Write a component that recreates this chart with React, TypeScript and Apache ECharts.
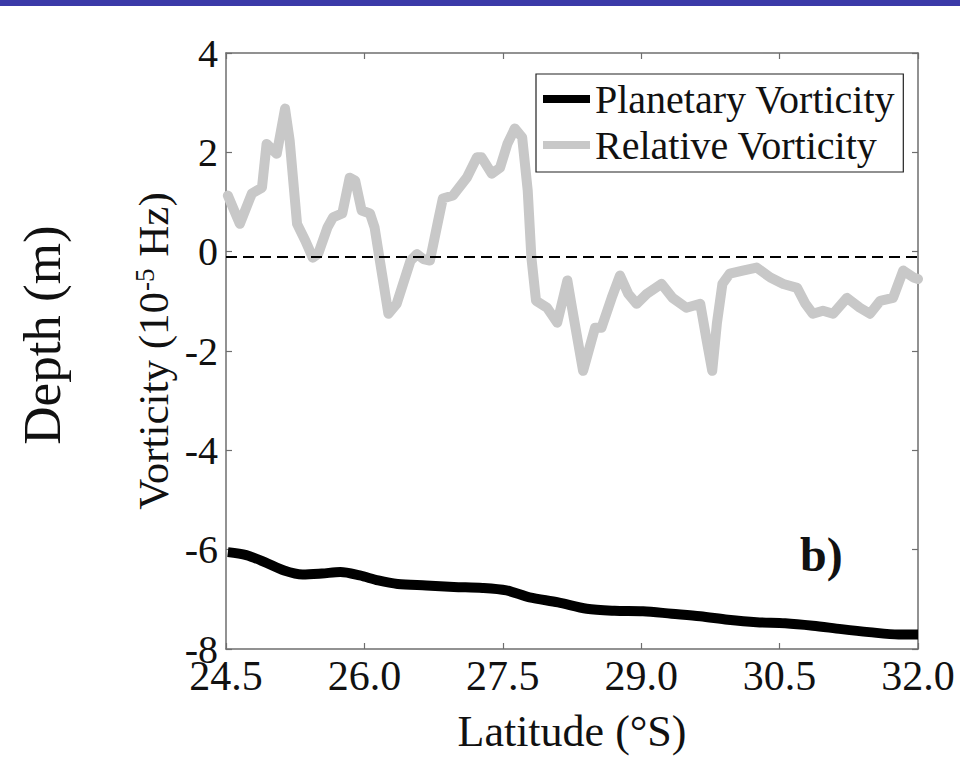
import React, { useEffect, useRef } from "react";
import * as echarts from "echarts";

const xTicks = [24.5, 26.0, 27.5, 29.0, 30.5, 32.0];
const yTicks = [-8, -6, -4, -2, 0, 2, 4];

const relLat = [24.52, 24.65, 24.78, 24.89, 24.94, 25.05, 25.14, 25.19, 25.27, 25.36, 25.44, 25.5, 25.6, 25.66, 25.76, 25.84, 25.9, 25.97, 26.06, 26.11, 26.19, 26.26, 26.35, 26.5, 26.57, 26.64, 26.71, 26.8, 26.85, 26.96, 27.11, 27.22, 27.27, 27.38, 27.47, 27.55, 27.63, 27.71, 27.77, 27.81, 27.86, 27.98, 28.09, 28.2, 28.25, 28.37, 28.5, 28.57, 28.68, 28.77, 28.86, 28.95, 29.06, 29.22, 29.34, 29.49, 29.64, 29.71, 29.77, 29.82, 29.88, 29.96, 30.1, 30.25, 30.4, 30.54, 30.69, 30.78, 30.86, 30.97, 31.08, 31.23, 31.37, 31.48, 31.59, 31.73, 31.84, 31.95, 32.0];
const relVort = [1.13, 0.56, 1.17, 1.29, 2.17, 1.97, 2.88, 2.24, 0.56, 0.22, -0.12, -0.04, 0.49, 0.69, 0.77, 1.49, 1.43, 0.83, 0.77, 0.49, -0.44, -1.25, -1.05, -0.18, -0.05, -0.15, -0.18, 0.63, 1.07, 1.13, 1.49, 1.9, 1.9, 1.57, 1.69, 2.17, 2.48, 2.3, 1.23, -0.12, -0.99, -1.13, -1.43, -0.58, -1.13, -2.4, -1.53, -1.53, -0.93, -0.48, -0.85, -1.05, -0.85, -0.65, -0.93, -1.13, -1.05, -1.79, -2.4, -1.45, -0.65, -0.44, -0.38, -0.32, -0.52, -0.65, -0.73, -1.05, -1.25, -1.19, -1.25, -0.93, -1.13, -1.25, -0.99, -0.93, -0.38, -0.52, -0.55];

const planLat = [24.52, 24.72, 24.92, 25.13, 25.33, 25.54, 25.74, 25.95, 26.15, 26.36, 26.67, 26.97, 27.28, 27.54, 27.79, 28.1, 28.41, 28.71, 29.02, 29.33, 29.64, 29.94, 30.25, 30.56, 30.86, 31.17, 31.47, 31.79, 32.0];
const planVort = [-6.05, -6.11, -6.25, -6.42, -6.5, -6.48, -6.45, -6.52, -6.62, -6.69, -6.72, -6.75, -6.77, -6.82, -6.96, -7.06, -7.19, -7.23, -7.24, -7.29, -7.34, -7.41, -7.46, -7.48, -7.53, -7.6, -7.66, -7.71, -7.71];

const zeroLine = -0.1;

const SERIF = "'Liberation Serif', 'Times New Roman', serif";

export default function App() {
  const ref = useRef<HTMLDivElement>(null);
  useEffect(() => {
    if (!ref.current) return;
    const chart = echarts.init(ref.current, null, { renderer: "svg" });
    const axisLineStyle = { color: "#6e6e6e", width: 1.5 };
    const tickStyle = { color: "#6e6e6e", width: 1.2 };
    chart.setOption({
      animation: false,
      backgroundColor: "#ffffff",
      grid: { left: 226, right: 42, top: 53, bottom: 108, containLabel: false, outerBoundsMode: "none" },
      legend: {
        orient: "vertical",
        left: 536,
        top: 74,
        padding: [5, 8, 7, 7],
        itemGap: 6,
        itemWidth: 47,
        itemHeight: 8,
        borderColor: "#222",
        borderWidth: 1.2,
        backgroundColor: "#fff",
        icon: "rect",
        textStyle: { fontFamily: SERIF, fontSize: 40, color: "#111", lineHeight: 40 },
        data: ["Planetary Vorticity", "Relative Vorticity"],
      },
      xAxis: [
        {
          type: "value",
          min: 24.5,
          max: 32,
          position: "bottom",
          axisLine: { show: true, onZero: false, lineStyle: axisLineStyle },
          axisTick: { show: true, inside: true, length: 6, lineStyle: tickStyle, customValues: xTicks },
          axisLabel: {
            show: true,
            customValues: xTicks,
            formatter: (v: number) => v.toFixed(1),
            fontFamily: SERIF,
            fontSize: 42,
            color: "#111",
            margin: 6,
          },
          splitLine: { show: false },
          name: "Latitude (°S)",
          nameLocation: "middle",
          nameGap: 60,
          nameTextStyle: { fontFamily: SERIF, fontSize: 44, color: "#111" },
        },
        {
          type: "value",
          min: 24.5,
          max: 32,
          position: "top",
          axisLine: { show: true, onZero: false, lineStyle: axisLineStyle },
          axisTick: { show: true, inside: true, length: 6, lineStyle: tickStyle, customValues: xTicks },
          axisLabel: { show: false },
          splitLine: { show: false },
        },
      ],
      yAxis: [
        {
          type: "value",
          min: -8,
          max: 4,
          interval: 2,
          position: "left",
          axisLine: { show: true, onZero: false, lineStyle: axisLineStyle },
          axisTick: { show: true, inside: true, length: 6, lineStyle: tickStyle },
          axisLabel: { fontFamily: SERIF, fontSize: 40, color: "#111", margin: 8 },
          splitLine: { show: false },
        },
        {
          type: "value",
          min: -8,
          max: 4,
          interval: 2,
          position: "right",
          axisLine: { show: true, onZero: false, lineStyle: axisLineStyle },
          axisTick: { show: true, inside: true, length: 6, lineStyle: tickStyle },
          axisLabel: { show: false },
          splitLine: { show: false },
        },
      ],
      series: [
        {
          name: "Relative Vorticity",
          type: "line",
          data: relLat.map((x, i) => [x, relVort[i]]),
          showSymbol: false,
          symbol: "none",
          lineStyle: { color: "#c8c8c8", width: 10, join: "round", cap: "round" },
          itemStyle: { color: "#c8c8c8" },
          z: 2,
          markLine: {
            silent: true,
            symbol: "none",
            label: { show: false },
            lineStyle: { color: "#000", type: [11, 6], width: 2 },
            data: [{ yAxis: zeroLine }],
          },
        },
        {
          name: "Planetary Vorticity",
          type: "line",
          data: planLat.map((x, i) => [x, planVort[i]]),
          showSymbol: false,
          symbol: "none",
          smooth: 0.3,
          lineStyle: { color: "#000", width: 10, join: "round" },
          itemStyle: { color: "#000" },
          z: 3,
        },
      ],
      graphic: [
        {
          type: "rect",
          left: 0,
          top: 0,
          shape: { x: 0, y: 0, width: 960, height: 6 },
          style: { fill: "#3b3aa8" },
          z: 10,
        },
        {
          type: "text",
          x: 42,
          y: 335,
          rotation: Math.PI / 2,
          style: {
            text: "Depth (m)",
            fontFamily: SERIF,
            fontSize: 53,
            fill: "#111",
            align: "center",
            verticalAlign: "middle",
          },
        },
        {
          type: "text",
          x: 153,
          y: 351,
          rotation: Math.PI / 2,
          style: {
            text: "{b|Vorticity (10}{s|-5}{b| Hz)}",
            fill: "#111",
            align: "center",
            verticalAlign: "middle",
            rich: {
              b: { fontFamily: SERIF, fontSize: 43, lineHeight: 43, verticalAlign: "bottom", fill: "#111" },
              s: { fontFamily: SERIF, fontSize: 27, lineHeight: 27, verticalAlign: "top", padding: [0, 1, 38, 1], fill: "#111" },
            },
          },
        },
        {
          type: "text",
          x: 800,
          y: 578,
          style: {
            text: "b)",
            fontFamily: SERIF,
            fontSize: 48,
            fontWeight: "bold",
            fill: "#111",
            align: "left",
            verticalAlign: "bottom",
          },
        },
      ],
    });
    return () => chart.dispose();
  }, []);
  return (
    <div
      ref={ref}
      style={{ position: "fixed", left: 0, top: 0, width: 960, height: 757, background: "#fff" }}
    />
  );
}
